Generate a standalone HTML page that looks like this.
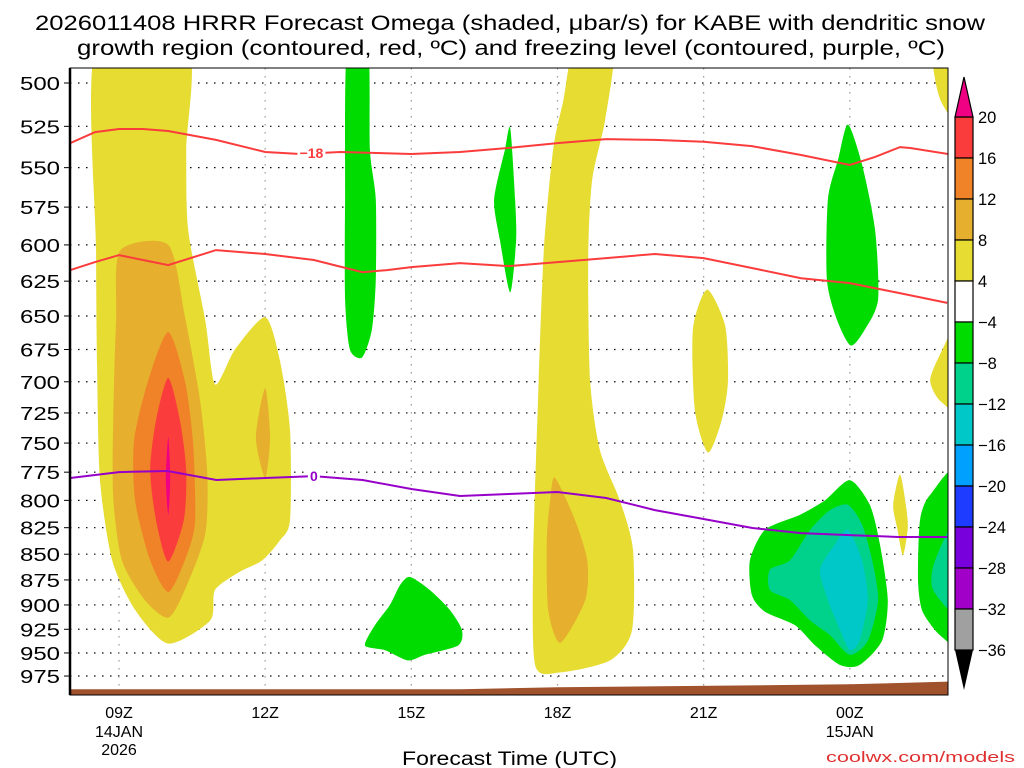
<!DOCTYPE html>
<html><head><meta charset="utf-8"><style>
html,body{margin:0;padding:0;background:#fff;}
svg{display:block;font-family:"Liberation Sans",sans-serif;}
</style></head><body>
<svg id="chart" width="1024" height="768" viewBox="0 0 1024 768" xmlns="http://www.w3.org/2000/svg">
<defs><clipPath id="pc"><rect x="70" y="68" width="878" height="627"/></clipPath></defs>
<text x="35" y="30" font-size="21" textLength="950" lengthAdjust="spacingAndGlyphs">2026011408 HRRR Forecast Omega (shaded, μbar/s) for KABE with dendritic snow</text>
<text x="77" y="55" font-size="21" textLength="868" lengthAdjust="spacingAndGlyphs">growth region (contoured, red, ºC) and freezing level (contoured, purple, ºC)</text>
<g id="grid"></g>
<g id="fills" clip-path="url(#pc)"></g>
<g id="lines" clip-path="url(#pc)"></g>
<g id="axes"></g>
<g id="cbar"></g>
<text x="402" y="765" font-size="19" textLength="215" lengthAdjust="spacingAndGlyphs">Forecast Time (UTC)</text>
<text x="826" y="762" font-size="15" fill="#e03030" textLength="189" lengthAdjust="spacingAndGlyphs">coolwx.com/models</text>
</svg>
<script>
// ---- data ----
const pressureTicks=[500,525,550,575,600,625,650,675,700,725,750,775,800,825,850,875,900,925,950,975];
const timeTicks=[9,12,15,18,21,24];
const timeLabels=["09Z","12Z","15Z","18Z","21Z","00Z"];
const dateLabels={9:["14JAN","2026"],24:["15JAN"]};
const cbarLevels=[20,16,12,8,4,-4,-8,-12,-16,-20,-24,-28,-32,-36];
const cbarColors=["#fa3c3c","#f08228","#e6af2d","#e6dc32","#ffffff","#00dc00","#00d28c","#00c8c8","#00a0ff","#1e3cff","#7800dc","#a000c8","#a0a0a0"];
const yellowA=[[8.53,480],[10.4,480],[10.38,539],[10.42,590],[10.77,653],[10.97,702],[11.38,675],[12,651],[12.3,683],[12.51,739],[12.51,818],[12.3,837],[11.94,856],[11.48,867],[10.97,885],[10.87,916],[10.01,940],[9.33,905],[8.86,856],[8.61,782],[8.55,690],[8.53,604]];
const orange8A=[[9.02,604],[10.01,600],[10.35,650],[10.66,714],[10.81,775],[10.77,831],[10.35,885],[10.01,913],[9.53,895],[9.06,856],[8.88,797],[8.88,731],[8.94,653]];
const orange8Spot=[[12.0,705],[12.1,745],[12.0,780],[11.81,745]];
const orange12A=[[10.01,662],[10.35,699],[10.52,750],[10.56,820],[10.35,856],[10.01,887],[9.64,856],[9.33,800],[9.31,748],[9.6,699]];
const red16A=[[10.01,697],[10.25,731],[10.38,773],[10.33,818],[10.01,857],[9.76,818],[9.64,773],[9.76,731]];
const magentaA=[[10.01,745],[10.05,780],[10.01,813],[9.96,780]];
const green14=[[13.68,480],[14.11,480],[14.15,539],[14.27,570],[14.27,624],[14.19,660],[13.99,681],[13.74,675],[13.64,638],[13.64,570]];
const green17=[[17.03,526],[17.13,570],[17.15,597],[17.03,633],[16.82,597],[16.7,570],[16.92,539]];
const green15=[[14.97,872],[15.38,885],[15.79,905],[16.04,926],[15.96,942],[15.28,952],[14.93,958],[14.46,947],[14.05,942],[14.25,921],[14.56,900],[14.77,880]];
const yellow18=[[18.36,480],[19.14,480],[18.98,521],[18.71,558],[18.63,610],[18.67,699],[18.87,756],[19.28,800],[19.55,846],[19.53,926],[19.08,958],[18.06,971],[17.54,963],[17.5,856],[17.6,715],[17.72,604],[17.91,539],[18.12,510]];
const orange18=[[17.95,780],[18.36,818],[18.61,856],[18.57,895],[18.06,939],[17.81,905],[17.78,837],[17.85,800]];
const yellow21=[[21.07,631],[21.44,657],[21.5,699],[21.37,731],[21.09,758],[20.82,723],[20.78,660]];
const green00Top=[[23.96,524],[24.25,548],[24.52,590],[24.58,638],[24.31,660],[24.02,672],[23.74,653],[23.53,624],[23.55,570],[23.76,545]];
const yellow01=[[25.03,777],[25.15,804],[25.19,825],[25.09,851],[24.97,825],[24.89,804]];
const yellowTR=[[25.71,480],[26.3,480],[26.3,525],[25.9,512],[25.75,498]];
const yellowMR=[[26.3,652],[25.85,679],[25.65,699],[25.85,715],[26.3,722]];
const greenBR=[[24,782],[24.41,804],[24.62,841],[24.78,895],[24.66,937],[24.2,963],[23.8,963],[23.29,942],[22.88,921],[22.26,907],[21.99,890],[21.95,856],[22.26,827],[22.98,813],[23.49,800]];
const tealBR=[[23.96,804],[24.25,822],[24.46,856],[24.58,895],[24.37,937],[24,952],[23.59,931],[23.19,916],[22.77,895],[22.36,885],[22.36,865],[22.77,856],[23.19,827],[23.59,809]];
const cyanBR=[[23.96,827],[24.25,856],[24.37,895],[24.2,937],[24,947],[23.8,926],[23.55,895],[23.39,865],[23.69,841]];
const greenR=[[26.3,775],[25.65,795],[25.44,818],[25.4,875],[25.48,905],[25.75,926],[26.02,939],[26.3,955]];
const tealR=[[26.3,810],[25.75,856],[25.71,885],[26.3,910]];
const tempMinus18=[[8,535],[8.51,528.4],[9,526.6],[9.49,526.6],[10.01,527.8],[10.99,533.1],[12,540.4],[12.72,541.6],[13.54,540.4],[15,541.6],[16,540.4],[16.98,538],[18,535],[19,532.6],[20,533.1],[21,534.2],[21.99,536.8],[23,542.2],[24,548.4],[24.52,543.4],[25.03,537.4],[25.24,538],[26.02,541.6]];
const tempMinus12=[[8,617.3],[8.51,611.7],[9,606.9],[9.49,610.3],[10.01,613.8],[10.99,603.5],[12,606.2],[13,610.3],[13.5,614.5],[14,618.7],[14.5,617.3],[15,615.2],[16,612.4],[17,614.5],[18,611.7],[19,609],[20,606.2],[21,609],[22,615.9],[23,622.9],[24,626.4],[25,633.3],[26,640.5]];
const freezing0=[[8,780.1],[9,774.9],[10,774],[11,781.9],[12,780.1],[13,778.4],[14,781.9],[15,789.8],[16,796.1],[17,794.3],[18,792.5],[19,797.9],[20,808.8],[21,817],[22,825.3],[23,830],[24,831.9],[25,833.7],[26,833.7]];
const ground=[[8,989.6],[16,989.6],[18,987.4],[24,984.1],[26.1,981]];

// ---- scales ----
const NS="http://www.w3.org/2000/svg";
function X(t){return 119+(t-9)*48.72;}
function Y(p){return 83+888*Math.log(p/500);}
function mk(tag,attrs,parent){const e=document.createElementNS(NS,tag);for(const k in attrs)e.setAttribute(k,attrs[k]);parent.appendChild(e);return e;}
function closedPath(pts){
  const P=pts.map(d=>[X(d[0]),Y(d[1])]);const n=P.length;let s="M"+P[0][0].toFixed(1)+","+P[0][1].toFixed(1);
  const k=8;
  for(let i=0;i<n;i++){const p0=P[(i-1+n)%n],p1=P[i],p2=P[(i+1)%n],p3=P[(i+2)%n];
    const c1=[p1[0]+(p2[0]-p0[0])/k,p1[1]+(p2[1]-p0[1])/k],c2=[p2[0]-(p3[0]-p1[0])/k,p2[1]-(p3[1]-p1[1])/k];
    s+="C"+c1[0].toFixed(1)+","+c1[1].toFixed(1)+" "+c2[0].toFixed(1)+","+c2[1].toFixed(1)+" "+p2[0].toFixed(1)+","+p2[1].toFixed(1);}
  return s+"Z";}
function linePath(pts){return pts.map((d,i)=>(i?"L":"M")+X(d[0]).toFixed(1)+","+Y(d[1]).toFixed(1)).join("");}

// ---- grid ----
const grid=document.getElementById("grid");
pressureTicks.forEach(p=>{const l=mk("line",{x1:70,x2:948,y1:Y(p),y2:Y(p),stroke:"#000","stroke-width":1.2,"stroke-dasharray":"1.5 6.5"},grid);

});
timeTicks.forEach(t=>{const l=mk("line",{x1:X(t),x2:X(t),y1:68,y2:695,stroke:"#999","stroke-width":1.2,"stroke-dasharray":"1.5 6.5"},grid);

});

// ---- fills ----
const fills=document.getElementById("fills");
const layers=[[yellowA,"#e6dc32","yellow-omega-region"],[yellow18,"#e6dc32","yellow-omega-region"],[yellow21,"#e6dc32","yellow-omega-region"],[yellow01,"#e6dc32","yellow-omega-region"],[yellowTR,"#e6dc32","yellow-omega-region"],[yellowMR,"#e6dc32","yellow-omega-region"],
[orange8A,"#e6af2d","orange-omega-region"],[orange8Spot,"#e6af2d","orange-omega-region"],[orange18,"#e6af2d","orange-omega-region"],
[orange12A,"#f08228","dark-orange-omega-region"],[red16A,"#fa3c3c","red-omega-region"],[magentaA,"#f00082","magenta-omega-region"],
[green14,"#00dc00","green-omega-region"],[green17,"#00dc00","green-omega-region"],[green15,"#00dc00","green-omega-region"],[green00Top,"#00dc00","green-omega-region"],[greenBR,"#00dc00","green-omega-region"],[greenR,"#00dc00","green-omega-region"],
[tealBR,"#00d28c","teal-omega-region"],[tealR,"#00d28c","teal-omega-region"],[cyanBR,"#00c8c8","cyan-omega-region"]];
layers.forEach(L=>{const e=mk("path",{d:closedPath(L[0]),fill:L[1]},fills);

});
const gp=mk("path",{d:linePath(ground)+"L"+X(26.1)+",700L"+X(8)+",700Z",fill:"#a0522d"},fills);



// ---- lines ----
const lines=document.getElementById("lines");
[[tempMinus18,"#fa3c3c","minus18-contour"],[tempMinus12,"#fa3c3c","minus12-contour"],[freezing0,"#9600c8","freezing-level-contour"]].forEach(L=>{
const e=mk("path",{d:linePath(L[0]),fill:"none",stroke:L[1],"stroke-width":2},lines);

});
function label(t,p,txt,col,name){const x=X(t),y=Y(p);
const r=mk("rect",{x:x-14,y:y-8,width:28,height:16,fill:"#fff"},lines);


const tx=mk("text",{x:x,y:y+5,"font-size":14,"font-weight":"bold",fill:col,"text-anchor":"middle"},lines);tx.textContent=txt;

}
label(12.95,541,"−18","#fa3c3c","minus18-label");
{const x=X(13),y=Y(778.4);const r=mk("rect",{x:x-6,y:y-8,width:12,height:16,fill:"#fff"},lines);


const tx=mk("text",{x:x,y:y+5,"font-size":14,"font-weight":"bold",fill:"#9600c8","text-anchor":"middle"},lines);tx.textContent="0";

}

// ---- axes ----
const axes=document.getElementById("axes");
const fr=mk("rect",{x:70,y:68,width:878,height:627,fill:"none",stroke:"#000","stroke-width":1},axes);


const la=mk("line",{x1:70,x2:70,y1:68,y2:695,stroke:"#000","stroke-width":2.5},axes);


pressureTicks.forEach(p=>{const t=mk("text",{x:20,y:Y(p)+7,"font-size":18,textLength:40,lengthAdjust:"spacingAndGlyphs"},axes);t.textContent=p;


const tk=mk("line",{x1:64,x2:70,y1:Y(p),y2:Y(p),stroke:"#000"},axes);

});
timeTicks.forEach((t,i)=>{const e=mk("text",{x:X(t),y:718,"font-size":16,"text-anchor":"middle"},axes);e.textContent=timeLabels[i];


(dateLabels[t]||[]).forEach((s,j)=>{const d=mk("text",{x:X(t),y:737+j*18,"font-size":16,"text-anchor":"middle"},axes);d.textContent=s;

});});

// ---- colorbar ----
const cb=document.getElementById("cbar");
const cbX=955,cbW=18,cbTop=117,cbH=41;
cbarColors.forEach((c,i)=>{const r=mk("rect",{x:cbX,y:cbTop+i*cbH,width:cbW,height:cbH,fill:c,stroke:"#000","stroke-width":1.2},cb);

});
const cbBot=cbTop+cbarColors.length*cbH;
const tu=mk("polygon",{points:`${cbX},${cbTop} ${cbX+cbW},${cbTop} ${cbX+cbW/2},${cbTop-40}`,fill:"#f00082",stroke:"#000","stroke-width":1.2},cb);


const td=mk("polygon",{points:`${cbX},${cbBot} ${cbX+cbW},${cbBot} ${cbX+cbW/2},${cbBot+40}`,fill:"#000"},cb);


cbarLevels.forEach((v,i)=>{const t=mk("text",{x:978,y:cbTop+i*cbH+6,"font-size":16.5},cb);t.textContent=v<0?"−"+(-v):v;

});
</script>
</body></html>
